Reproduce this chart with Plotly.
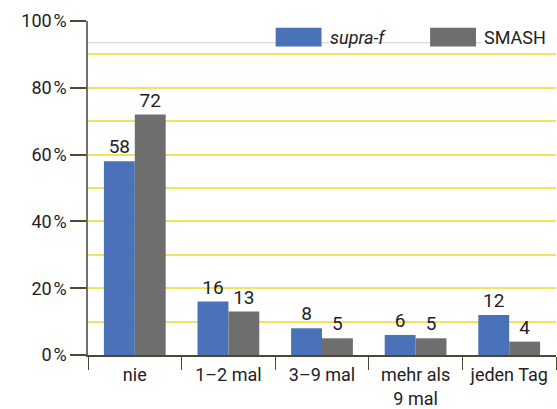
import plotly.graph_objects as go

# ── DATA ────────────────────────────────────────────────
categories = ["nie", "1–2 mal", "3–9 mal", "mehr als<br>9 mal", "jeden Tag"]
supra_f = [58, 16, 8, 6, 12]
smash = [72, 13, 5, 5, 4]
series_names = ["<i>supra-f</i>", "SMASH"]
y_ticks = [0, 20, 40, 60, 80, 100]

BLUE = "#4a72b8"
GRAY = "#6e6e6e"
YELLOW = "#f2e35c"
TEXT = "#222222"
FONT = "Roboto"

fig = go.Figure()
fig.add_trace(go.Bar(x=categories, y=supra_f, name=series_names[0],
                     marker=dict(color=BLUE, line=dict(width=0)),
                     text=supra_f, textposition="outside",
                     textfont=dict(size=19, color=TEXT), cliponaxis=False))
fig.add_trace(go.Bar(x=categories, y=smash, name=series_names[1],
                     marker=dict(color=GRAY, line=dict(width=0)),
                     text=smash, textposition="outside",
                     textfont=dict(size=19, color=TEXT), cliponaxis=False))

# hand-drawn legend with wide swatches (plotly's bar swatches are tiny)
shapes = [
    dict(type="line", xref="paper", yref="paper", x0=0, x1=0.84, y0=0.935, y1=0.935,
         line=dict(color="#d0d0d0", width=1), layer="below"),
    dict(type="rect", xref="paper", yref="paper", x0=0.401, x1=0.499, y0=0.924, y1=0.98,
         fillcolor=BLUE, line=dict(width=0)),
    dict(type="rect", xref="paper", yref="paper", x0=0.731, x1=0.829, y0=0.924, y1=0.98,
         fillcolor=GRAY, line=dict(width=0)),
]
annotations = [
    dict(xref="paper", yref="paper", x=0.512, y=0.952, text=series_names[0],
         showarrow=False, xanchor="left", yanchor="middle",
         font=dict(size=18, color=TEXT, family=FONT)),
    dict(xref="paper", yref="paper", x=0.842, y=0.952, text=series_names[1],
         showarrow=False, xanchor="left", yanchor="middle",
         font=dict(size=18, color=TEXT, family=FONT)),
]

fig.update_layout(
    width=557, height=409,
    barmode="group", bargap=0.34, bargroupgap=0,
    showlegend=False,
    plot_bgcolor="white", paper_bgcolor="white",
    font=dict(family=FONT, size=18, color=TEXT),
    margin=dict(l=88, r=1, t=21, b=54),
    shapes=shapes, annotations=annotations,
    xaxis=dict(showline=True, linecolor="#4a4a30", linewidth=1.5,
               ticks="outside", ticklen=13, tickcolor="#4a4a30", tickwidth=1,
               tickson="boundaries", showgrid=False, ticklabelstandoff=3,
               tickfont=dict(size=18, color=TEXT)),
    yaxis=dict(range=[0, 100], tickvals=y_ticks,
               ticktext=[f"{v}\u200a%" for v in y_ticks],
               showline=True, linecolor="#707070", linewidth=1.5,
               ticks="outside", ticklen=16, tickcolor="#4a4a30", tickwidth=1.5,
               gridcolor=YELLOW, gridwidth=1.5, zeroline=False,
               minor=dict(dtick=10, showgrid=True, gridcolor=YELLOW, gridwidth=1.5,
                          ticks=""),
               tickfont=dict(size=18, color=TEXT)),
)

# drop the browser's default body margin so the figure sits at the page corner
fig.write_html("out.html", config={"displayModeBar": False},
               post_script="document.body.style.margin='0';")
